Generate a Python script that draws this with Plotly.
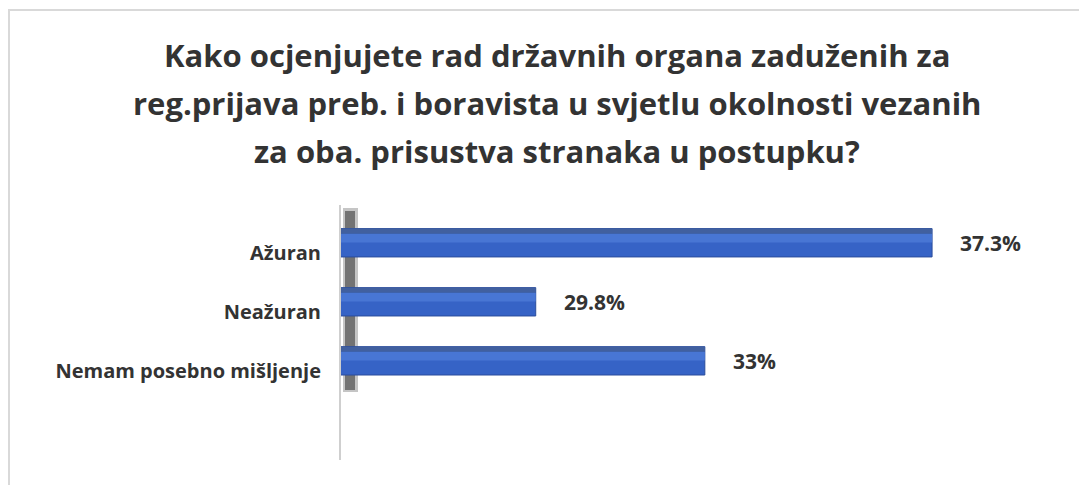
import plotly.graph_objects as go

categories = ["Ažuran", "Neažuran", "Nemam posebno mišljenje"]
values = [37.3, 29.8, 33.0]
value_labels = ["37.3%", "29.8%", "33%"]
title_lines = [
    "Kako ocjenjujete rad državnih organa zaduženih za",
    "reg.prijava preb. i boravista u svjetlu okolnosti vezanih",
    "za oba. prisustva stranaka u postupku?",
]

# page body has an 8px margin, so the figure is placed at (8, 8) in the window
OFF = 8
W, H = 1087 - OFF, 485 - OFF
L, R, T, B = 333, 17, 197, 25
pw, ph = W - L - R, H - T - B

def px_x(sx):
    return (sx - OFF - L) / pw

def px_y(sy):
    return (H - B - (sy - OFF)) / ph

FONT = "Open Sans"
TXT = "#333333"

fig = go.Figure()
# base bar face
fig.add_trace(go.Bar(
    y=categories, x=values, orientation="h", width=0.48, offset=-0.41,
    marker=dict(color="#3663c6", line=dict(color="#2b4d9c", width=1)),
    hoverinfo="skip", showlegend=False,
))
# highlight band
fig.add_trace(go.Bar(
    y=categories, x=values, orientation="h", width=0.15, offset=-0.325,
    marker=dict(color="#4876d4", line=dict(width=0)),
    hoverinfo="skip", showlegend=False,
))
# top face of the 3D bar
fig.add_trace(go.Bar(
    y=categories, x=values, orientation="h", width=0.085, offset=-0.41,
    marker=dict(color="#41609f", line=dict(width=0)),
    hoverinfo="skip", showlegend=False,
))

for c, v, t in zip(categories, values, value_labels):
    fig.add_annotation(x=v, y=c, xref="x", yref="y", text="<b>%s</b>" % t,
                       showarrow=False, xanchor="left", xshift=26, yshift=10,
                       font=dict(family=FONT, size=21, color=TXT))

title_y = [55, 103, 151]
for line, yp in zip(title_lines, title_y):
    fig.add_annotation(x=px_x(557), y=px_y(yp), xref="paper", yref="paper",
                       text="<b>%s</b>" % line, showarrow=False,
                       xanchor="center", yanchor="middle",
                       font=dict(family=FONT, size=31, color=TXT))

shapes = [
    # outer border (partially cropped)
    dict(type="rect", xref="paper", yref="paper",
         x0=px_x(9), x1=px_x(1100), y0=px_y(500), y1=px_y(10),
         line=dict(color="#d9d9d9", width=2), fillcolor="rgba(0,0,0,0)", layer="below"),
    # shaded back wall behind bars
    dict(type="rect", xref="paper", yref="paper",
         x0=px_x(343), x1=px_x(358), y0=px_y(392), y1=px_y(208),
         line=dict(width=0), fillcolor="rgba(110,110,110,0.4)", layer="below"),
    dict(type="rect", xref="paper", yref="paper",
         x0=px_x(345), x1=px_x(355), y0=px_y(390), y1=px_y(211),
         line=dict(width=0), fillcolor="rgba(60,60,60,0.6)", layer="below"),
]

fig.update_layout(
    width=W, height=H,
    margin=dict(l=L, r=R, t=T, b=B),
    paper_bgcolor="white", plot_bgcolor="white",
    barmode="overlay",
    shapes=shapes,
    xaxis=dict(range=[26.115, 39.91], visible=False, showgrid=False, zeroline=False),
    yaxis=dict(categoryorder="array", categoryarray=categories,
               range=[3.51, -0.81], showgrid=False, zeroline=False,
               showline=True, linecolor="#cfcfcf", linewidth=2,
               ticks="outside", ticklen=14, tickcolor="rgba(0,0,0,0)",
               tickfont=dict(family=FONT, size=20, color=TXT)),
    font=dict(family=FONT),
)
fig.update_yaxes(tickprefix="<b>", ticksuffix="</b>")

fig.write_html("out.html")
